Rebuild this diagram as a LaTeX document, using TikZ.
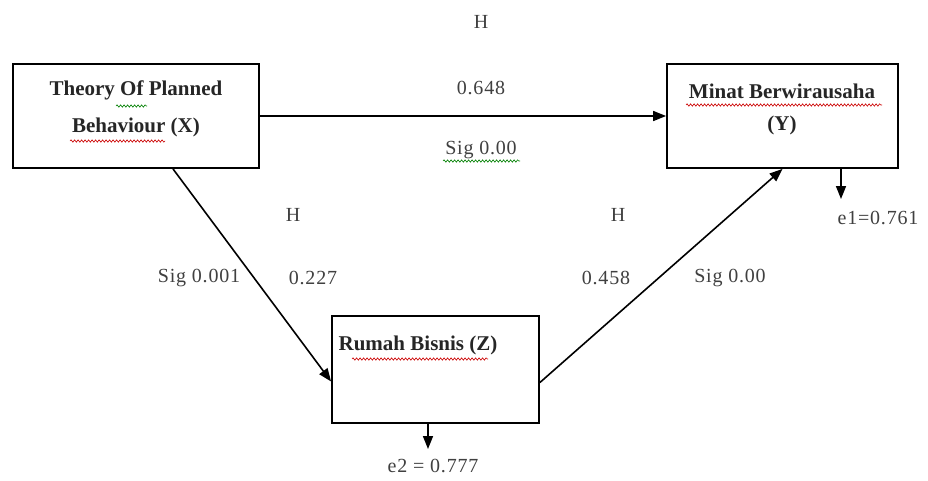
\documentclass[tikz,border=0pt]{standalone}
\usepackage{fontspec}
\setmainfont{Liberation Serif}
\usetikzlibrary{arrows.meta,calc,decorations.pathmorphing}
\begin{document}
\begin{tikzpicture}[x=1pt,y=-1pt,
  box/.style={draw=black,line width=1.8pt,rectangle,inner sep=0pt},
  btxt/.style={font=\fontsize{21}{24}\selectfont\bfseries,text=black!85,inner sep=0pt,align=center},
  lbl/.style={font=\fontsize{20}{22}\selectfont\addfontfeatures{LetterSpace=4},text=black!75,inner sep=0pt},
  conn/.style={line width=1.6pt,draw=black,-{Triangle[length=13pt,width=10pt]}},
  wavyr/.style={draw=red!80!black,line width=0.6pt,decorate,decoration={snake,amplitude=1.2pt,segment length=3.5pt}},
  wavyg/.style={draw=green!50!black,line width=0.6pt,decorate,decoration={snake,amplitude=1.2pt,segment length=3.5pt}}]
\useasboundingbox (0,0) rectangle (928,480);
\fill[white] (0,0) rectangle (928,480);
% boxes
\node[box,minimum width=246pt,minimum height=104pt] (X) at (136,116) {};
\node[box,minimum width=231pt,minimum height=104pt] (Y) at (782.5,116) {};
\node[box,minimum width=207pt,minimum height=107pt] (Z) at (435.5,369.5) {};
% box texts
\node[btxt] (xt1) at (136,90) {Theory Of Planned};
\node[btxt] (xt2) at (136,127) {Behaviour (X)};
\node[btxt] (yt1) at (782,91) {Minat Berwirausaha};
\node[btxt] (yt2) at (782,125) {(Y)};
\node[btxt] (zt) at (418,345) {Rumah Bisnis (Z)};
% connectors
\draw[conn] (X.east) -- (Y.west);
\draw[conn] ([xshift=37pt]X.south) -- ([yshift=-12pt]Z.west);
\draw[conn] ([yshift=-13pt]Z.east) -- (Y.south);
\coordinate (e1c) at (841,199);
\coordinate (e2c) at (428,449);
\draw[conn] ([xshift=58.5pt]Y.south) -- (e1c);
\draw[conn] ([xshift=-7.5pt]Z.south) -- (e2c);
% labels
\node[lbl] (h1) at (481,22) {H};
\node[lbl] (l648) at (481,88) {0.648};
\node[lbl] (s1) at (481,150) {Sig 0.00};
\node[lbl] (h2) at (293,215) {H};
\node[lbl] (s2) at (199,278) {Sig 0.001};
\node[lbl] (l227) at (313,278) {0.227};
\node[lbl] (h3) at (618,215) {H};
\node[lbl] (l458) at (606,278) {0.458};
\node[lbl] (s3) at (730,278) {Sig 0.00};
\node[lbl] (e1) at (878,218) {e1=0.761};
\node[lbl] (e2) at (433,466) {e2 = 0.777};
% spell-check underlines
\draw[wavyg] (116,106) -- (147,106);
\draw[wavyr] (70,141) -- (165,141);
\draw[wavyr] (686,105) -- (882,105);
\draw[wavyr] (352,359) -- (488,359);
\draw[wavyg] (443,161) -- (520,161);
\end{tikzpicture}
\end{document}
